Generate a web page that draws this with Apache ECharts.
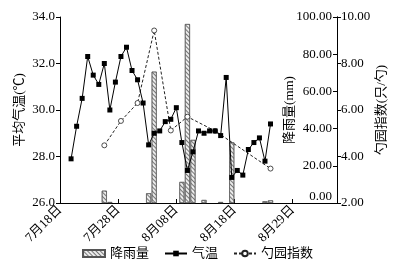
<!DOCTYPE html>
<html>
<head>
<meta charset="utf-8">
<script src="https://cdn.jsdelivr.net/npm/echarts@6/dist/echarts.min.js"></script>
<style>
html,body{margin:0;padding:0;background:#fff;}
#c{width:396px;height:266px;}
</style>
</head>
<body>
<div id="c"></div>
<script>
// ---- data (dates as M/D, 2020 summer) ----
const tempDates = ['7/20','7/21','7/22','7/23','7/24','7/25','7/26','7/27','7/28','7/29','7/30','7/31',
  '8/1','8/2','8/3','8/4','8/5','8/6','8/7','8/8','8/9','8/10','8/11','8/12','8/13','8/14','8/15','8/16',
  '8/17','8/18','8/19','8/20','8/21','8/22','8/23','8/24','8/25'];
const tempValues = [27.9,29.3,30.5,32.3,31.5,31.1,32.0,30.0,31.2,32.3,32.7,31.7,
  31.3,30.3,28.5,29.0,29.1,29.5,29.6,30.1,28.6,27.4,28.2,29.1,29.0,29.1,29.1,28.9,
  31.4,27.1,27.4,27.2,28.3,28.6,28.8,27.8,29.4];
const rainDates = ['7/26','7/27','8/3','8/4','8/9','8/10','8/11','8/13','8/16','8/18','8/24','8/25'];
const rainValues = [6.6,0.5,5.2,70.6,11.3,96.2,33.9,1.6,0.5,32.6,0.9,1.4];
const indexDates = ['7/26','7/29','8/1','8/4','8/7','8/10','8/15','8/25'];
const indexValues = [4.48,5.53,6.30,9.42,5.12,5.71,5.10,3.48];
const xTickDays = [0,10.5,21,31.5,42]; // tick labels: 7月18日 7月28日 8月08日 8月18日 8月29日

// day offset from 7/18
function dayOf(s){ const p=s.split('/').map(Number); return p[0]===7 ? p[1]-18 : p[1]+13; }
function dateLabel(v){
  const d=Math.floor(v+1e-9);
  if(d<=13) return '7月'+(18+d)+'日';
  const dd=d-13; return '8月'+(dd<10?'0'+dd:dd)+'日';
}
const pair=(ds,vs)=>ds.map((s,i)=>[dayOf(s),vs[i]]);

const serif="'Liberation Serif','Noto Sans CJK SC',serif";
const chart=echarts.init(document.getElementById('c'),null,{renderer:'canvas'});
const axisBase={
  axisLine:{show:true,lineStyle:{color:'#000',width:1}},
  splitLine:{show:false},
  nameTextStyle:{color:'#000',fontFamily:serif,fontSize:13},
  nameLocation:'middle',nameRotate:90,nameMoveOverlap:false
};
chart.setOption({
  animation:false,
  backgroundColor:'#fff',
  grid:{left:60,right:58,top:17,bottom:63,containLabel:false},
  legend:{
    data:[{name:'降雨量',icon:'rect'},{name:'气温'},{name:'勺园指数'}],
    left:77,top:242,itemWidth:22,itemHeight:7,itemGap:15,
    textStyle:{color:'#000',fontFamily:serif,fontSize:13}
  },
  xAxis:{
    type:'value',min:0,max:50,interval:10.5,
    axisLine:{show:true,onZero:false,lineStyle:{color:'#000',width:1}},
    axisTick:{show:true,inside:true,length:4,lineStyle:{color:'#000'}},
    splitLine:{show:false},
    axisLabel:{
      rotate:45,margin:5,color:'#000',fontFamily:serif,fontSize:13,
      showMaxLabel:false,
      formatter:function(v){
        const ok=xTickDays.some(t=>Math.abs(t-v)<1e-6);
        return ok?dateLabel(v):'';
      }
    }
  },
  yAxis:[
    Object.assign({},axisBase,{
      type:'value',position:'left',min:26,max:34,interval:2,
      name:'平均气温(℃)',nameGap:34,
      axisTick:{show:true,inside:false,length:4,lineStyle:{color:'#000'}},
      axisLabel:{color:'#000',fontFamily:serif,fontSize:13,margin:5,formatter:v=>v.toFixed(1)}
    }),
    Object.assign({},axisBase,{
      type:'value',position:'right',min:0,max:100,interval:20,
      name:'降雨量(mm)',nameGap:-54,
      axisTick:{show:true,inside:true,length:4,lineStyle:{color:'#000'}},
      axisLabel:{inside:true,showMinLabel:true,hideOverlap:false,color:'#000',fontFamily:serif,fontSize:13,margin:5,
        formatter:v=>v===0?'0.00\n':v.toFixed(2)}
    }),
    Object.assign({},axisBase,{
      type:'value',position:'right',min:2,max:10,interval:2,
      name:'勺园指数(只/勺)',nameGap:38,
      axisTick:{show:true,inside:false,length:4,lineStyle:{color:'#000'}},
      axisLabel:{color:'#000',fontFamily:serif,fontSize:13,margin:4,formatter:v=>v.toFixed(2)}
    })
  ],
  series:[
    {
      name:'勺园指数',type:'line',yAxisIndex:2,data:pair(indexDates,indexValues),
      symbol:'circle',symbolSize:5,showAllSymbol:true,
      lineStyle:{color:'#222',width:1,type:[3,2]},
      itemStyle:{color:'#fff',borderColor:'#222',borderWidth:0.8}
    },
    {
      name:'降雨量',type:'bar',yAxisIndex:1,data:pair(rainDates,rainValues),
      barWidth:5,
      itemStyle:{color:'#ececec',borderColor:'#555',borderWidth:0.6,
        decal:{symbol:'rect',symbolSize:1,color:'rgba(90,90,90,0.8)',dashArrayX:[1,0],dashArrayY:[1,2],rotation:Math.PI/4}}
    },
    {
      name:'气温',type:'line',yAxisIndex:0,data:pair(tempDates,tempValues),
      symbol:'rect',symbolSize:5,showAllSymbol:true,
      lineStyle:{color:'#000',width:1},
      itemStyle:{color:'#000'}
    }
  ]
});
</script>
</body>
</html>
